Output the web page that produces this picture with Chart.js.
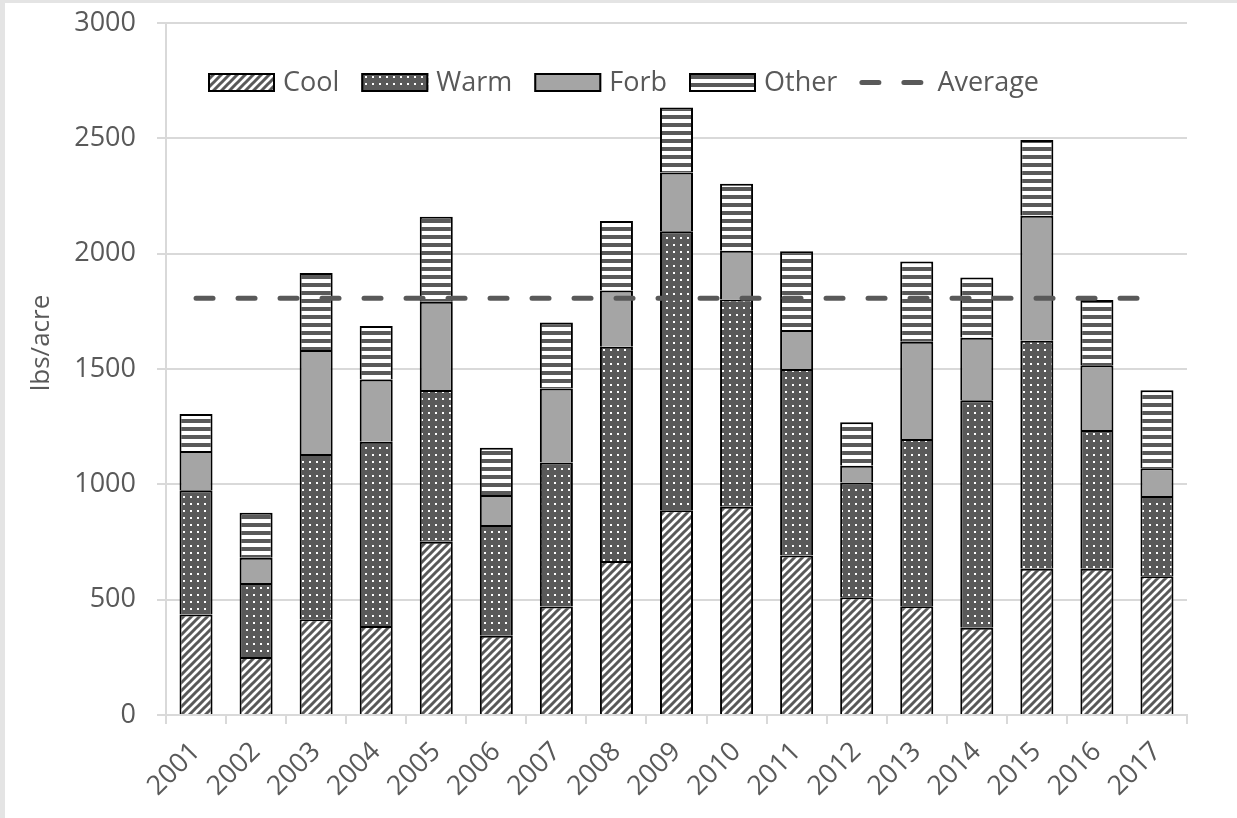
<!DOCTYPE html>
<html>
<head>
<meta charset="utf-8">
<title>Forage production, 2001–2017</title>
<script src="https://cdn.jsdelivr.net/npm/chart.js@4/dist/chart.umd.min.js"></script>
<style>
  html, body { margin: 0; padding: 0; background: #e4e4e4; overflow: hidden; }
  #wrap { position: absolute; left: 5px; top: 3px; width: 1232px; height: 815px; background: #ffffff; }
</style>
</head>
<body>
<div id="wrap"><canvas id="chart"></canvas></div>
<script>
// Production by functional group (lbs/acre)
const years = ['2001', '2002', '2003', '2004', '2005', '2006', '2007', '2008', '2009',
               '2010', '2011', '2012', '2013', '2014', '2015', '2016', '2017'];
const cool  = [436, 251, 415, 386, 751, 344, 470, 668, 888, 903, 691, 511, 471, 378, 634, 634, 601];
const warm  = [538, 321, 716, 799, 658, 480, 625, 929, 1209, 898, 809, 497, 725, 986, 988, 602, 348];
const forb  = [170, 110, 451, 270, 383, 130, 321, 243, 255, 212, 169, 73, 422, 272, 542, 280, 121];
const other = [161, 195, 334, 231, 368, 205, 286, 302, 282, 290, 341, 188, 348, 261, 329, 283, 338];
const average = [1807, 1807, 1807, 1807, 1807, 1807, 1807, 1807, 1807,
                 1807, 1807, 1807, 1807, 1807, 1807, 1807, 1807];
const yTickValues = [0, 500, 1000, 1500, 2000, 2500, 3000];
const yTitle = 'lbs/acre';

const DARK = '#595959';
const FONT = '"Open Sans", "DejaVu Sans", sans-serif';

// Fill patterns for the stacked groups
function tile(w, h, paint) {
  const c = document.createElement('canvas');
  c.width = w; c.height = h;
  const g = c.getContext('2d');
  paint(g, w, h);
  return document.createElement('canvas').getContext('2d').createPattern(c, 'repeat');
}
const upwardDiagonal = tile(8, 8, (g, w, h) => {
  g.fillStyle = '#ffffff'; g.fillRect(0, 0, w, h);
  g.strokeStyle = DARK; g.lineWidth = 3;
  g.beginPath();
  g.moveTo(-2, 10); g.lineTo(10, -2);
  g.moveTo(-6, 6); g.lineTo(6, -6);
  g.moveTo(2, 14); g.lineTo(14, 2);
  g.stroke();
});
const dotted = tile(7, 7, (g, w, h) => {
  g.fillStyle = DARK; g.fillRect(0, 0, w, h);
  g.fillStyle = '#ffffff'; g.fillRect(3, 3, 2, 2);
});
const horizontalStripes = tile(8, 8, (g, w, h) => {
  g.fillStyle = '#ffffff'; g.fillRect(0, 0, w, h);
  g.fillStyle = DARK; g.fillRect(0, 0, w, 4);
});

function barSet(label, data, fill) {
  return {
    type: 'bar', label, data,
    backgroundColor: fill, borderColor: '#000000', borderWidth: 2,
    stack: 'groups', order: 1
  };
}

// Legend drawn inside the plot, plus the rotated axis title
const overlay = {
  id: 'overlay',
  afterDraw(chart) {
    const ctx = chart.ctx;
    ctx.save();
    ctx.font = '27px ' + FONT;
    ctx.textBaseline = 'middle';
    ctx.textAlign = 'left';
    const cy = 79.5;
    let x = chart.chartArea.left + 42;
    chart.data.datasets.forEach(ds => {
      if (ds.type === 'line') {
        ctx.save();
        ctx.strokeStyle = ds.borderColor;
        ctx.lineWidth = ds.borderWidth;
        ctx.lineCap = 'round';
        ctx.setLineDash(ds.borderDash);
        ctx.beginPath();
        ctx.moveTo(x + 2.5, cy); ctx.lineTo(x + 62.5, cy);
        ctx.stroke();
        ctx.restore();
        x += 65 + 13;
      } else {
        ctx.fillStyle = ds.backgroundColor;
        ctx.fillRect(x, cy - 9.5, 67, 19);
        ctx.strokeStyle = '#000000';
        ctx.lineWidth = 2;
        ctx.strokeRect(x + 1, cy - 8.5, 65, 17);
        x += 67 + 8;
      }
      ctx.fillStyle = DARK;
      ctx.fillText(ds.label, x, cy + 1);
      x += ctx.measureText(ds.label).width + 22;
    });
    ctx.translate(37, 340);
    ctx.rotate(-Math.PI / 2);
    ctx.textAlign = 'center';
    ctx.font = '26px ' + FONT;
    ctx.fillText(yTitle, 0, 0);
    ctx.restore();
  }
};

new Chart(document.getElementById('chart'), {
  data: {
    labels: years,
    datasets: [
      barSet('Cool', cool, upwardDiagonal),
      barSet('Warm', warm, dotted),
      barSet('Forb', forb, '#a5a5a5'),
      barSet('Other', other, horizontalStripes),
      {
        type: 'line', label: 'Average', data: average,
        borderColor: DARK, borderWidth: 5, borderDash: [17, 25], borderCapStyle: 'round',
        pointRadius: 0, pointHoverRadius: 0, fill: false, stack: 'avg', order: 0
      }
    ]
  },
  options: {
    responsive: true,
    maintainAspectRatio: false,
    animation: false,
    events: [],
    layout: { padding: { top: 20, right: 50, left: 0, bottom: 0 } },
    datasets: { bar: { barPercentage: 0.55, categoryPercentage: 1.0 } },
    plugins: { legend: { display: false }, tooltip: { enabled: false } },
    scales: {
      x: {
        stacked: true,
        grid: { display: true, drawOnChartArea: false, drawTicks: true, tickLength: 9, color: '#d9d9d9', lineWidth: 2 },
        border: { display: true, color: '#d9d9d9', width: 2 },
        ticks: { minRotation: 45, maxRotation: 45, padding: 12, color: DARK, font: { family: FONT, size: 27 } },
        afterFit(scale) { scale.height = 103; }
      },
      y: {
        stacked: true,
        min: 0, max: 3000,
        afterBuildTicks(scale) { scale.ticks = yTickValues.map(v => ({ value: v })); },
        grid: { color: '#d9d9d9', lineWidth: 2, tickLength: 9 },
        border: { display: true, color: '#d9d9d9', width: 2 },
        ticks: { padding: 21, color: DARK, font: { family: FONT, size: 27 }, callback: v => String(v) },
        afterFit(scale) { scale.width = 161; scale.paddingTop = 0; scale.paddingBottom = 0; }
      }
    }
  },
  plugins: [overlay]
});
</script>
</body>
</html>
